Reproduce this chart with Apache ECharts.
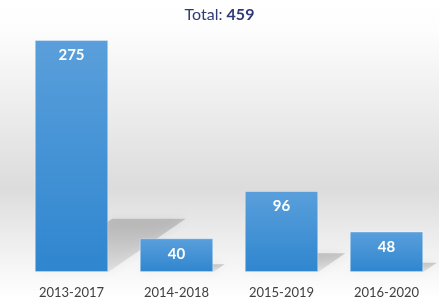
<!DOCTYPE html>
<html>
<head>
<meta charset="utf-8">
<script src="https://cdn.jsdelivr.net/npm/echarts@6/dist/echarts.min.js"></script>
<style>
  html, body { margin: 0; padding: 0; }
  #chart { width: 439px; height: 299px; }
</style>
</head>
<body>
<div id="chart"></div>
<script>
var categories = ["2013-2017", "2014-2018", "2015-2019", "2016-2020"];
var values = [275, 40, 96, 48];
var total = 459;

var chart = echarts.init(document.getElementById("chart"));

// skewed floor shadow behind each bar
function renderShadow(params, api) {
  var idx = api.value(0);
  var base = api.coord([idx, 0]);
  var top = api.coord([idx, api.value(1)]);
  var w = api.size([1, 0])[0] * 0.7;
  var h = (base[1] - top[1]) * 0.23;
  var dx = h * 1.45;
  var x0 = base[0] - w / 2, x1 = base[0] + w / 2, y0 = base[1];
  return {
    type: "polygon",
    shape: { points: [[x0, y0], [x1, y0], [x1 + dx, y0 - h], [x0 + dx, y0 - h]] },
    style: {
      fill: {
        type: "linear", x: 0, y: 0, x2: 0, y2: 1,
        colorStops: [
          { offset: 0, color: "rgba(90,90,90,0.28)" },
          { offset: 1, color: "rgba(90,90,90,0.12)" }
        ]
      },
      shadowBlur: 10,
      shadowColor: "rgba(90,90,90,0.4)"
    }
  };
}

chart.setOption({
  backgroundColor: {
    type: "linear", x: 0, y: 0, x2: 0, y2: 1,
    colorStops: [
      { offset: 0, color: "#ffffff" },
      { offset: 0.1, color: "#fdfdfd" },
      { offset: 0.63, color: "#dcdcdc" },
      { offset: 0.85, color: "#f2f2f2" },
      { offset: 1, color: "#ffffff" }
    ]
  },
  title: {
    text: "{a|Total: }{b|" + total + "}",
    left: "center",
    top: 2,
    textStyle: {
      rich: {
        a: { fontFamily: "Lato", fontSize: 16, fontWeight: "normal", color: "#2f3a78" },
        b: { fontFamily: "Lato", fontSize: 16, fontWeight: "bold", color: "#2f3a78" }
      }
    }
  },
  grid: { left: 19, right: -2, top: 40, bottom: 26 },
  xAxis: {
    type: "category",
    data: categories,
    axisLine: { show: false },
    axisTick: { show: false },
    axisLabel: { fontFamily: "Lato", fontSize: 13, color: "#404040", margin: 14 }
  },
  yAxis: {
    type: "value",
    min: 0,
    max: 275,
    show: false,
    splitLine: { show: false }
  },
  series: [
    {
      type: "custom",
      renderItem: renderShadow,
      data: values.map(function (v, i) { return [i, v]; }),
      z: 1,
      silent: true
    },
    {
      type: "bar",
      data: values,
      barWidth: "70%",
      z: 2,
      itemStyle: {
        color: {
          type: "linear", x: 0, y: 0, x2: 0, y2: 1,
          colorStops: [
            { offset: 0, color: "#5a9fdb" },
            { offset: 1, color: "#2f86cf" }
          ]
        },
        borderColor: "rgba(255,255,255,0.35)",
        borderWidth: 1
      },
      label: {
        show: true,
        position: "insideTop",
        distance: 8,
        color: "#ffffff",
        fontFamily: "Lato",
        fontWeight: "bold",
        fontSize: 15
      }
    }
  ]
});
window.addEventListener("resize", function () { chart.resize(); });
</script>
</body>
</html>
